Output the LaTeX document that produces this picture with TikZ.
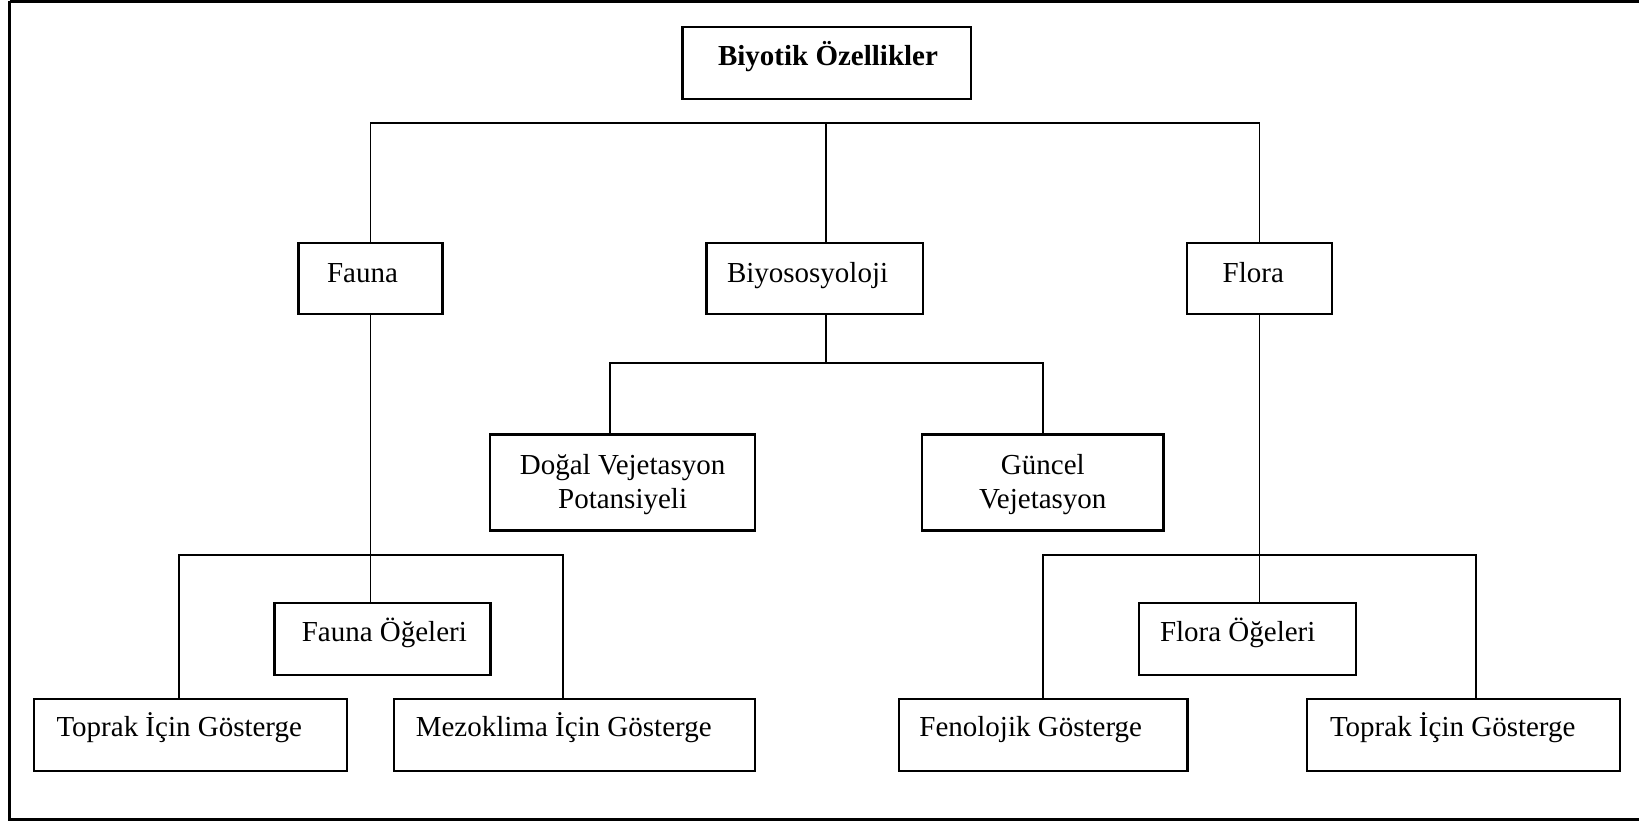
\documentclass[tikz,border=0pt]{standalone}
\usepackage{fontspec}
\setmainfont{Liberation Serif}
\usetikzlibrary{fit}

\tikzset{
  box/.style={draw, line width=1.2pt, inner sep=0pt, outer sep=0pt},
  wire/.style={line width=0.8pt},
  frame/.style={line width=1.3pt},
  lbl/.style={inner sep=0pt, outer sep=0pt, anchor=base west,
              font=\fontsize{14.5}{17}\selectfont},
  lblc/.style={inner sep=0pt, outer sep=0pt, anchor=base, align=center,
              font=\fontsize{14.5}{17}\selectfont},
}

\begin{document}
\begin{tikzpicture}[x=0.5pt, y=-0.5pt]
  \useasboundingbox (0,0) rectangle (1639,820);

  % surrounding frame (its right edge runs off the page)
  \draw[frame] (9.5,1.3) -- (1660,1.3) (9.5,1.3) -- (9.5,819.3) -- (1660,819.3);

  % boxes
  \node[box, fit={(682.5,27) (971,99)}]       (top)     {};
  \node[box, fit={(298.6,242.7) (442.4,314)}] (fauna)   {};
  \node[box, fit={(706.6,242.7) (923,314)}]   (biyo)    {};
  \node[box, fit={(1187,242.7) (1332,314)}]   (flora)   {};
  \node[box, fit={(490,434.3) (755.2,530.5)}] (dogal)   {};
  \node[box, fit={(922,434.3) (1163.6,530.5)}] (guncel) {};
  \node[box, fit={(274.6,602.7) (490.6,675)}] (faunaog) {};
  \node[box, fit={(1139,602.7) (1356,675)}]   (floraog) {};
  \node[box, fit={(34,698.7) (347,771)}]      (toprakL) {};
  \node[box, fit={(394,698.7) (755,771)}]     (mezo)    {};
  \node[box, fit={(899,698.7) (1187.5,771)}]  (feno)    {};
  \node[box, fit={(1307,698.7) (1620,771)}]   (toprakR) {};

  % labels (two-line labels are anchored on their last line)
  \node[lbl, font=\fontsize{14.5}{17}\selectfont\bfseries] (topT) at (718,65) {Biyotik Özellikler};
  \node[lbl] (faunaT)   at (327,282)   {Fauna};
  \node[lbl] (biyoT)    at (727,282)   {Biyososyoloji};
  \node[lbl] (floraT)   at (1222.7,282) {Flora};
  \node[lblc] (dogalT)  at (622.6,508) {Doğal Vejetasyon\\Potansiyeli};
  \node[lblc] (guncelT) at (1042.8,508) {Güncel\\Vejetasyon};
  \node[lbl] (faunaogT) at (301.8,641) {Fauna Öğeleri};
  \node[lbl] (floraogT) at (1160,641)  {Flora Öğeleri};
  \node[lbl] (toprakLT) at (56.5,736.7) {Toprak İçin Gösterge};
  \node[lbl] (mezoT)    at (415.8,736.7) {Mezoklima İçin Gösterge};
  \node[lbl] (fenoT)    at (919.4,736.7) {Fenolojik Gösterge};
  \node[lbl] (toprakRT) at (1330,736.7) {Toprak İçin Gösterge};

  % bus lines
  \coordinate (busTop) at (826,123);
  \coordinate (busMid) at (826,362.7);
  \coordinate (midL)   at (610,362.7);
  \coordinate (midR)   at (1043,362.7);
  \coordinate (faL)    at (179,555);
  \coordinate (faR)    at (563,555);
  \coordinate (flL)    at (1043,555);
  \coordinate (flR)    at (1476,555);

  % first level
  \draw[wire] (fauna.north) -- (fauna.north |- busTop) -- (flora.north |- busTop) -- (flora.north);
  \draw[wire] (busTop) -- (busTop |- biyo.north);

  % Biyososyoloji branch
  \draw[wire] (busMid |- biyo.south) -- (busMid);
  \draw[wire] (midL |- dogal.north) -- (midL) -- (midR) -- (midR |- guncel.north);

  % Fauna branch
  \draw[wire] (fauna.south) -- (fauna.south |- faunaog.north);
  \draw[wire] (faL |- toprakL.north) -- (faL) -- (faR) -- (faR |- mezo.north);

  % Flora branch
  \draw[wire] (flora.south) -- (flora.south |- floraog.north);
  \draw[wire] (flL |- feno.north) -- (flL) -- (flR) -- (flR |- toprakR.north);
\end{tikzpicture}
\end{document}
